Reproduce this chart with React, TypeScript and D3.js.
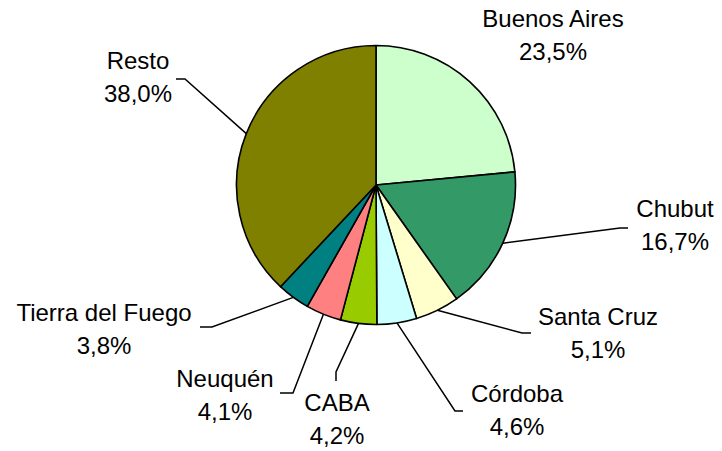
import React from "react";
import * as d3 from "d3";

const categories = ["Buenos Aires", "Chubut", "Santa Cruz", "Córdoba", "CABA", "Neuquén", "Tierra del Fuego", "Resto"];
const values = [23.5, 16.7, 5.1, 4.6, 4.2, 4.1, 3.8, 38.0];
const valueLabels = ["23,5%", "16,7%", "5,1%", "4,6%", "4,2%", "4,1%", "3,8%", "38,0%"];
const colors = ["#CCFFCC", "#339966", "#FFFFCC", "#CCFFFF", "#99CC00", "#FF8080", "#008080", "#808000"];

// label layout: text center x, first baseline y, and leader elbow/end points (null = no leader)
const labelLayout: { x: number; y: number; leader: [number, number][] | null }[] = [
  { x: 553, y: 27, leader: null },
  { x: 675, y: 217, leader: [[620, 228], [628, 228]] },
  { x: 598, y: 325, leader: [[522, 333], [531, 333]] },
  { x: 517, y: 402, leader: [[455, 411], [463, 411]] },
  { x: 337, y: 411, leader: [[336, 372], [336, 381]] },
  { x: 225, y: 387, leader: [[293, 393], [280, 393]] },
  { x: 104, y: 321, leader: [[212, 327], [200, 327]] },
  { x: 138, y: 69, leader: [[185, 79], [176, 79]] },
];

const W = 722;
const H = 451;
const CX = 376;
const CY = 185;
const R = 139.5;
const LINE_GAP = 33;

export default function App() {
  const pie = d3.pie<number>().sort(null).value((d) => d)(values);
  const arc = d3.arc<d3.PieArcDatum<number>>().innerRadius(0).outerRadius(R);

  return (
    <svg
      width={W}
      height={H}
      style={{ position: "absolute", left: 0, top: 0, background: "#fff" }}
      fontFamily="'Liberation Sans', Arial, sans-serif"
    >
      <g transform={`translate(${CX},${CY})`}>
        {pie.map((p, i) => (
          <path key={i} d={arc(p) || ""} fill={colors[i]} stroke="#000" strokeWidth={1.6} strokeLinejoin="round" />
        ))}
      </g>
      {pie.map((p, i) => {
        const L = labelLayout[i];
        const mid = (p.startAngle + p.endAngle) / 2;
        const sx = CX + R * Math.sin(mid);
        const sy = CY - R * Math.cos(mid);
        const pts: [number, number][] = L.leader ? [[sx, sy], ...L.leader] : [];
        return (
          <g key={i}>
            {L.leader && (
              <path d={d3.line()(pts) || ""} fill="none" stroke="#000" strokeWidth={1.5} />
            )}
            <text x={L.x} y={L.y} textAnchor="middle" fontSize={24} fill="#000">
              {categories[i]}
            </text>
            <text x={L.x} y={L.y + LINE_GAP} textAnchor="middle" fontSize={24} fill="#000">
              {valueLabels[i]}
            </text>
          </g>
        );
      })}
    </svg>
  );
}
